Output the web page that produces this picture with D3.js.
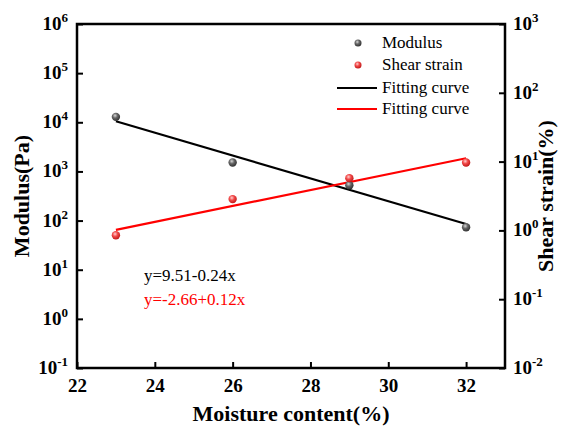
<!DOCTYPE html>
<html><head><meta charset="utf-8">
<script src="https://cdn.jsdelivr.net/npm/d3@7"></script>
<style>body{margin:0;background:#fff}svg{display:block}</style>
</head><body>
<script>
const moisture = [23, 26, 29, 32];
const modulus = [12900, 1520, 525, 73];
const shearStrain = [0.85, 2.85, 5.75, 9.7];
const fitX = [23, 32];
const modulusFit = [10500, 85];
const strainFit = [1.02, 11.2];
const xTicks = [22, 24, 26, 28, 30, 32];
const leftExp = [-1, 0, 1, 2, 3, 4, 5, 6];
const rightExp = [-2, -1, 0, 1, 2, 3];
const legendLabels = ["Modulus", "Shear strain", "Fitting curve", "Fitting curve"];
const equations = ["y=9.51-0.24x", "y=-2.66+0.12x"];

const FONT = "Tinos, 'Liberation Serif', 'DejaVu Serif', serif";
const W = 567, H = 433;
const L = 77, R = 505, T = 24, B = 368;
const svg = d3.select("body").append("svg").attr("width", W).attr("height", H);

const x = d3.scaleLinear().domain([22, 33]).range([L, R]);
const yL = d3.scaleLog().domain([0.1, 1e6]).range([B, T]);
const yR = d3.scaleLog().domain([0.01, 1000]).range([B, T]);

const defs = svg.append("defs");
function grad(id, light, mid, dark) {
  const g = defs.append("radialGradient").attr("id", id).attr("cx", "40%").attr("cy", "35%").attr("r", "65%");
  g.append("stop").attr("offset", "0%").attr("stop-color", light);
  g.append("stop").attr("offset", "45%").attr("stop-color", mid);
  g.append("stop").attr("offset", "100%").attr("stop-color", dark);
}
grad("gBlack", "#d8d8d8", "#666", "#333");
grad("gRed", "#ffd0d0", "#f24a4a", "#c01818");

function txt(sel) { return sel.attr("font-family", FONT); }

const xAxis = d3.axisBottom(x).tickValues(xTicks).tickSize(-6).tickPadding(10).tickFormat(d3.format("d"));
const gx = svg.append("g").attr("transform", `translate(0,${B})`).call(xAxis);
gx.attr("font-family", FONT);
gx.select(".domain").remove();
gx.selectAll("line").attr("stroke", "#000").attr("stroke-width", 2);
txt(gx.selectAll("text")).attr("font-size", 19).attr("font-weight", "bold").attr("fill", "#000").attr("dy", "0.75em");

function logAxis(axisFn, scale, exps, xpos, anchor) {
  const ax = axisFn(scale).tickValues(exps.map(e => Math.pow(10, e))).tickSize(-6).tickFormat("");
  const g = svg.append("g").attr("transform", `translate(${xpos},0)`).call(ax);
  g.select(".domain").remove();
  g.selectAll("line").attr("stroke", "#000").attr("stroke-width", 2);
  exps.forEach(e => {
    const t = txt(svg.append("text")).attr("x", anchor === "end" ? xpos - 9 : xpos + 8)
      .attr("y", scale(Math.pow(10, e)) + 6).attr("text-anchor", anchor)
      .attr("font-size", 19).attr("font-weight", "bold").attr("fill", "#000");
    t.append("tspan").text("10");
    t.append("tspan").attr("font-size", 13).attr("dy", -8).text(e);
  });
}
logAxis(d3.axisLeft, yL, leftExp, L, "end");
logAxis(d3.axisRight, yR, rightExp, R, "start");

svg.append("rect").attr("x", L).attr("y", T).attr("width", R - L).attr("height", B - T)
  .attr("fill", "none").attr("stroke", "#000").attr("stroke-width", 2.5);

const lineL = d3.line().x((d, i) => x(fitX[i])).y(d => yL(d));
const lineR = d3.line().x((d, i) => x(fitX[i])).y(d => yR(d));
svg.append("path").attr("d", lineL(modulusFit)).attr("fill", "none").attr("stroke", "#000").attr("stroke-width", 2.2);
svg.append("path").attr("d", lineR(strainFit)).attr("fill", "none").attr("stroke", "#f00").attr("stroke-width", 2.2);

svg.selectAll(".pm").data(modulus).enter().append("circle")
  .attr("cx", (d, i) => x(moisture[i])).attr("cy", d => yL(d)).attr("r", 4.2).attr("fill", "url(#gBlack)");
svg.selectAll(".ps").data(shearStrain).enter().append("circle")
  .attr("cx", (d, i) => x(moisture[i])).attr("cy", d => yR(d)).attr("r", 4.2).attr("fill", "url(#gRed)");

const legY = [43, 65, 88, 109];
svg.append("circle").attr("cx", 358).attr("cy", legY[0]).attr("r", 3.5).attr("fill", "url(#gBlack)");
svg.append("circle").attr("cx", 358).attr("cy", legY[1]).attr("r", 3.5).attr("fill", "url(#gRed)");
svg.append("line").attr("x1", 337).attr("x2", 377).attr("y1", legY[2]).attr("y2", legY[2]).attr("stroke", "#000").attr("stroke-width", 2.2);
svg.append("line").attr("x1", 337).attr("x2", 377).attr("y1", legY[3]).attr("y2", legY[3]).attr("stroke", "#f00").attr("stroke-width", 2.2);
legendLabels.forEach((t, i) => {
  txt(svg.append("text")).attr("x", 382).attr("y", legY[i] + 5).attr("font-size", 17).attr("fill", "#000").text(t);
});

txt(svg.append("text")).attr("x", 144).attr("y", 281).attr("font-size", 17).attr("fill", "#000").text(equations[0]);
txt(svg.append("text")).attr("x", 144).attr("y", 305).attr("font-size", 17).attr("fill", "#f00").text(equations[1]);

txt(svg.append("text")).attr("x", (L + R) / 2).attr("y", 421).attr("text-anchor", "middle")
  .attr("font-size", 22).attr("font-weight", "bold").text("Moisture content(%)");
txt(svg.append("text")).attr("transform", `translate(29,${(T + B) / 2}) rotate(-90)`).attr("text-anchor", "middle")
  .attr("font-size", 22).attr("font-weight", "bold").text("Modulus(Pa)");
txt(svg.append("text")).attr("transform", `translate(553,${(T + B) / 2}) rotate(-90)`).attr("text-anchor", "middle")
  .attr("font-size", 22).attr("font-weight", "bold").text("Shear strain(%)");
</script>
</body></html>
